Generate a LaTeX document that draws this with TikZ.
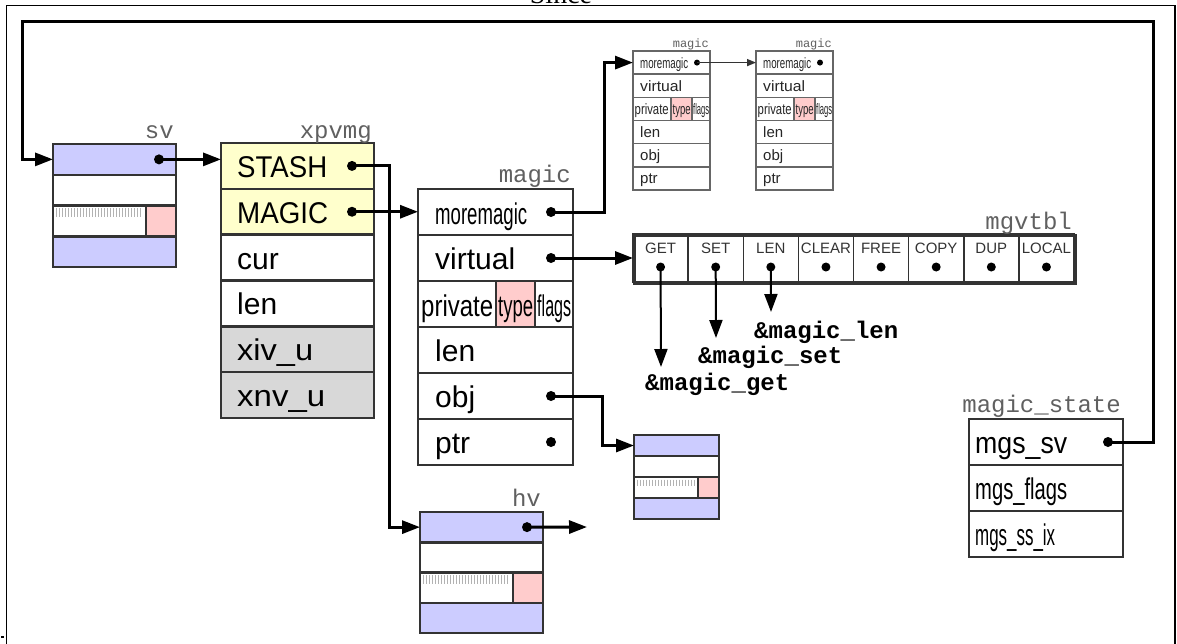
\documentclass[tikz,border=0pt]{standalone}
\usepackage{graphicx}
\usepackage{fontspec}
\setmainfont{Liberation Sans}
\setmonofont{Liberation Mono}
\newfontfamily\serifsince{Liberation Serif}
\usetikzlibrary{arrows.meta}
\definecolor{svblue}{HTML}{CCCCFF}
\definecolor{svpink}{HTML}{FFCCCC}
\definecolor{xyel}{HTML}{FFFFCC}
\definecolor{xgray}{HTML}{D8D8D8}
\definecolor{edge}{HTML}{333333}
\definecolor{lblgray}{HTML}{606060}
\newcommand{\fitw}[2]{\resizebox{#1pt}{\height}{#2}}
\newcommand{\svstruct}[7]{%
  \node[cell, fill=svblue, minimum width=#4pt, minimum height=#5pt] (#1a) at (#2,#3) {};
  \node[cell, fill=white, minimum width=#4pt, minimum height=#5pt] (#1b) at (#1a.south west) {};
  \node[cell, fill=white, minimum width=#4pt, minimum height=#5pt] (#1c) at (#1b.south west) {};
  \node[cell, fill=svblue, minimum width=#4pt, minimum height=#5pt] (#1d) at (#1c.south west) {};
  \node[cell, fill=svpink, minimum width=#6pt, minimum height=#5pt, anchor=north east] (#1p) at (#1c.north east) {};
  \foreach \hx in {3,6,...,#7} \draw[hatch] ([xshift=\hx pt, yshift=-2.5pt]#1c.north west) -- ++(0,0.3*#5);
}
\begin{document}
\begin{tikzpicture}[x=1pt,y=-1pt,
  cell/.style={draw=edge, line width=2.5pt, anchor=north west, inner sep=0pt, outer sep=0pt},
  scell/.style={draw=edge!75, line width=1.5pt, anchor=north west, inner sep=0pt, outer sep=0pt, fill=white},
  vcell/.style={draw=edge, line width=1.5pt, anchor=north west, inner sep=0pt, outer sep=0pt, fill=white},
  big/.style={font=\fontsize{30}{30}\selectfont, anchor=base west, inner sep=0pt},
  small/.style={font=\fontsize{15}{15}\selectfont, anchor=base west, inner sep=0pt, text=black!85},
  vlab/.style={font=\fontsize{15}{15}\selectfont, inner sep=0pt, text=black!80},
  tag/.style={font=\ttfamily\fontsize{24}{24}\selectfont, text=lblgray, anchor=base east, inner sep=0pt},
  stag/.style={font=\ttfamily\fontsize{12}{12}\selectfont, text=lblgray, anchor=base east, inner sep=0pt},
  fn/.style={font=\ttfamily\bfseries\fontsize{24}{24}\selectfont, anchor=base west, inner sep=0pt},
  dot/.style={circle, fill=black, inner sep=0pt, minimum size=10pt},
  vdot/.style={circle, fill=black, inner sep=0pt, minimum size=9pt},
  sdot/.style={circle, fill=black, inner sep=0pt, minimum size=6pt},
  conn/.style={line width=3pt, black},
  arr/.style={conn, -{Triangle[length=18pt,width=13pt]}},
  sarr/.style={line width=1.5pt, black!80, -{Triangle[length=9pt,width=7pt]}},
  hatch/.style={black!30, line width=0.8pt},
]
\useasboundingbox (0,0) rectangle (1177,643);

% page frame
\node[font=\serifsince\fontsize{28}{28}\selectfont, anchor=base, inner sep=0pt] (since) at (561,3) {Since};
\draw[line width=1.5pt] (6.5,660) -- (6.5,5.5) -- (1175,5.5) -- (1175,660);
\fill (1,635.5) rectangle (3.5,638);

% ---------- sv ----------
\svstruct{sv}{53}{144}{123}{30.75}{30}{87}
\node[tag] (svtag) at (174,138) {sv};
\node[dot] (svDot) at ([xshift=-17pt]sva.east) {};

% ---------- xpvmg ----------
\node[cell, fill=xyel, minimum width=153pt, minimum height=45.83pt] (xS) at (221,143) {};
\node[cell, fill=xyel, minimum width=153pt, minimum height=45.83pt] (xM) at (xS.south west) {};
\node[cell, fill=white, minimum width=153pt, minimum height=45.83pt] (xC) at (xM.south west) {};
\node[cell, fill=white, minimum width=153pt, minimum height=45.83pt] (xL) at (xC.south west) {};
\node[cell, fill=xgray, minimum width=153pt, minimum height=45.83pt] (xI) at (xL.south west) {};
\node[cell, fill=xgray, minimum width=153pt, minimum height=45.83pt] (xN) at (xI.south west) {};
\node[tag] (xtag) at (372,138) {xpvmg};
\node[big] (tS) at ([xshift=16pt, yshift=-11.5pt]xS.west) {\fitw{90}{STASH}};
\node[big] (tM) at ([xshift=16pt, yshift=-11.5pt]xM.west) {\fitw{91}{MAGIC}};
\node[big] (tC) at ([xshift=16pt, yshift=-11.5pt]xC.west) {cur};
\node[big] (tL) at ([xshift=16pt, yshift=-11.5pt]xL.west) {len};
\node[big] (tI) at ([xshift=16pt, yshift=-11.5pt]xI.west) {\fitw{76}{xiv\_u}};
\node[big] (tN) at ([xshift=16pt, yshift=-11.5pt]xN.west) {\fitw{88}{xnv\_u}};
\node[dot] (stDot) at ([xshift=-22pt]xS.east) {};
\node[dot] (mgDot) at ([xshift=-22pt]xM.east) {};

% ---------- magic ----------
\node[cell, fill=white, minimum width=155pt, minimum height=46pt] (mMore) at (418,189) {};
\node[cell, fill=white, minimum width=155pt, minimum height=46pt] (mVirt) at (mMore.south west) {};
\node[cell, fill=white, minimum width=78pt, minimum height=46pt] (mPriv) at (mVirt.south west) {};
\node[cell, fill=svpink, minimum width=39pt, minimum height=46pt] (mType) at (mPriv.north east) {};
\node[cell, fill=white, minimum width=38pt, minimum height=46pt] (mFlag) at (mType.north east) {};
\node[cell, fill=white, minimum width=155pt, minimum height=46pt] (mLen) at (mPriv.south west) {};
\node[cell, fill=white, minimum width=155pt, minimum height=46pt] (mObj) at (mLen.south west) {};
\node[cell, fill=white, minimum width=155pt, minimum height=46pt] (mPtr) at (mObj.south west) {};
\node[tag] (mtag) at (571,182) {magic};
\node[big] (tMore) at ([xshift=17pt, yshift=-12pt]mMore.west) {\fitw{92}{moremagic}};
\node[big] (tVirt) at ([xshift=17pt, yshift=-11pt]mVirt.west) {virtual};
\node[big] (tPriv) at ([xshift=3pt, yshift=-12pt]mPriv.west) {\fitw{72}{private}};
\node[big] (tType) at ([xshift=2pt, yshift=-12pt]mType.west) {\fitw{35}{type}};
\node[big] (tFlag) at ([xshift=2pt, yshift=-12pt]mFlag.west) {\fitw{34}{flags}};
\node[big] (tLen) at ([xshift=17pt, yshift=-11pt]mLen.west) {len};
\node[big] (tObj) at ([xshift=17pt, yshift=-11pt]mObj.west) {obj};
\node[big] (tPtr) at ([xshift=17pt, yshift=-11pt]mPtr.west) {ptr};
\node[dot] (mmDot) at ([xshift=-22pt]mMore.east) {};
\node[dot] (viDot) at ([xshift=-22pt]mVirt.east) {};
\node[dot] (obDot) at ([xshift=-22pt]mObj.east) {};
\node[dot] (ptDot) at ([xshift=-22pt]mPtr.east) {};

% ---------- small magic boxes ----------
\foreach \p/\bx in {sa/633, sb/756} {
  \node[scell, minimum width=77pt, minimum height=23.17pt] (\p1) at (\bx,51) {};
  \node[scell, minimum width=77pt, minimum height=23.17pt] (\p2) at (\p1.south west) {};
  \node[scell, minimum width=38pt, minimum height=23.17pt] (\p3) at (\p2.south west) {};
  \node[scell, fill=svpink, minimum width=21pt, minimum height=23.17pt] (\p3t) at (\p3.north east) {};
  \node[scell, minimum width=18pt, minimum height=23.17pt] (\p3f) at (\p3t.north east) {};
  \node[scell, minimum width=77pt, minimum height=23.17pt] (\p4) at (\p3.south west) {};
  \node[scell, minimum width=77pt, minimum height=23.17pt] (\p5) at (\p4.south west) {};
  \node[scell, minimum width=77pt, minimum height=23.17pt] (\p6) at (\p5.south west) {};
  \node[stag] (\p tag) at ([xshift=-1pt, yshift=4pt]\p1.north east) {magic};
  \node[small] (\p t1) at ([xshift=7pt, yshift=-5.5pt]\p1.west) {\fitw{48}{moremagic}};
  \node[small] (\p t2) at ([xshift=7pt, yshift=-5.5pt]\p2.west) {\fitw{42}{virtual}};
  \node[small] (\p t3) at ([xshift=1.5pt, yshift=-5.5pt]\p3.west) {\fitw{34}{private}};
  \node[small] (\p t3t) at ([xshift=1.5pt, yshift=-5.5pt]\p3t.west) {\fitw{18}{type}};
  \node[small] (\p t3f) at ([xshift=1pt, yshift=-5.5pt]\p3f.west) {\fitw{16}{flags}};
  \node[small] (\p t4) at ([xshift=7pt, yshift=-5.5pt]\p4.west) {len};
  \node[small] (\p t5) at ([xshift=7pt, yshift=-5.5pt]\p5.west) {obj};
  \node[small] (\p t6) at ([xshift=7pt, yshift=-5.5pt]\p6.west) {ptr};
  \node[sdot] (\p dot) at ([xshift=-13pt]\p1.east) {};
}

% ---------- mgvtbl ----------
\foreach \lab [count=\i] in {GET,SET,LEN,CLEAR,FREE,COPY,DUP,LOCAL} {
  \node[vcell, minimum width=55.125pt, minimum height=48pt] (vc\i) at ({633+55.125*(\i-1)},234) {};
  \node[vlab] (vl\i) at ([yshift=-14pt]vc\i.north) {\lab};
  \node[vdot] (vd\i) at ([yshift=-33pt]vc\i.north) {};
}
\node[draw=edge, line width=2.5pt, anchor=north west, inner sep=0pt, minimum width=441pt, minimum height=48pt] (vt) at (633,234) {};
\node[tag] (vtag) at (1072,229) {mgvtbl};

% ---------- obj target sv ----------
\svstruct{os}{634}{435}{85}{21}{21}{60}

% ---------- hv ----------
\svstruct{hv}{420}{512}{123}{30.25}{30}{88}
\node[tag] (hvtag) at (541,506) {hv};
\node[dot] (hvDot) at ([xshift=-16pt]hva.east) {};
\coordinate (hvEnd) at (587,527);

% ---------- magic_state ----------
\node[cell, fill=white, minimum width=154pt, minimum height=46pt] (ms1) at (969,419) {};
\node[cell, fill=white, minimum width=154pt, minimum height=46pt] (ms2) at (ms1.south west) {};
\node[cell, fill=white, minimum width=154pt, minimum height=46pt] (ms3) at (ms2.south west) {};
\node[tag] (mstag) at (1121,412) {magic\_state};
\node[big] (tms1) at ([xshift=6pt, yshift=-11pt]ms1.west) {\fitw{92}{mgs\_sv}};
\node[big] (tms2) at ([xshift=6pt, yshift=-11pt]ms2.west) {\fitw{92}{mgs\_flags}};
\node[big] (tms3) at ([xshift=6pt, yshift=-11pt]ms3.west) {\fitw{80}{mgs\_ss\_ix}};
\node[dot] (msDot) at ([xshift=-15pt]ms1.east) {};

% ---------- function labels ----------
\coordinate (getEnd) at (661,367);
\coordinate (setEnd) at (716,338);
\coordinate (lenEnd) at (771,312);
\node[fn] (fLen) at (754,338) {\&magic\_len};
\node[fn] (fSet) at (698,363) {\&magic\_set};
\node[fn] (fGet) at (645,390) {\&magic\_get};

% ---------- connectors ----------
\coordinate (loopR) at (1153,21.5);
\coordinate (loopL) at (22,21.5);
\draw[arr] (msDot.center) -- (msDot.center -| loopR) -- (loopR) -- (loopL) |- (sva.west);
\draw[arr] (svDot.center) -- (svDot.center -| xS.west);
\draw[arr] (stDot.center) -- ++(37,0) |- (hva.west);
\draw[arr] (mgDot.center) -- (mgDot.center -| mMore.west);
\draw[arr] (mmDot.center) -- ++(53,0) |- (sa1.west);
\draw[arr] (viDot.center) -- (viDot.center -| vt.west);
\draw[arr] (obDot.center) -- ++(51,0) |- (osa.west);
\draw[arr] (hvDot.center) -- (hvEnd);
\draw[sarr] (sadot.center) -- (sadot.center -| sb1.west);
\draw[arr, line width=2pt] (vd1.center) -- (getEnd);
\draw[arr, line width=2pt] (vd2.center) -- (setEnd);
\draw[arr, line width=2pt] (vd3.center) -- (lenEnd);
\end{tikzpicture}
\end{document}
